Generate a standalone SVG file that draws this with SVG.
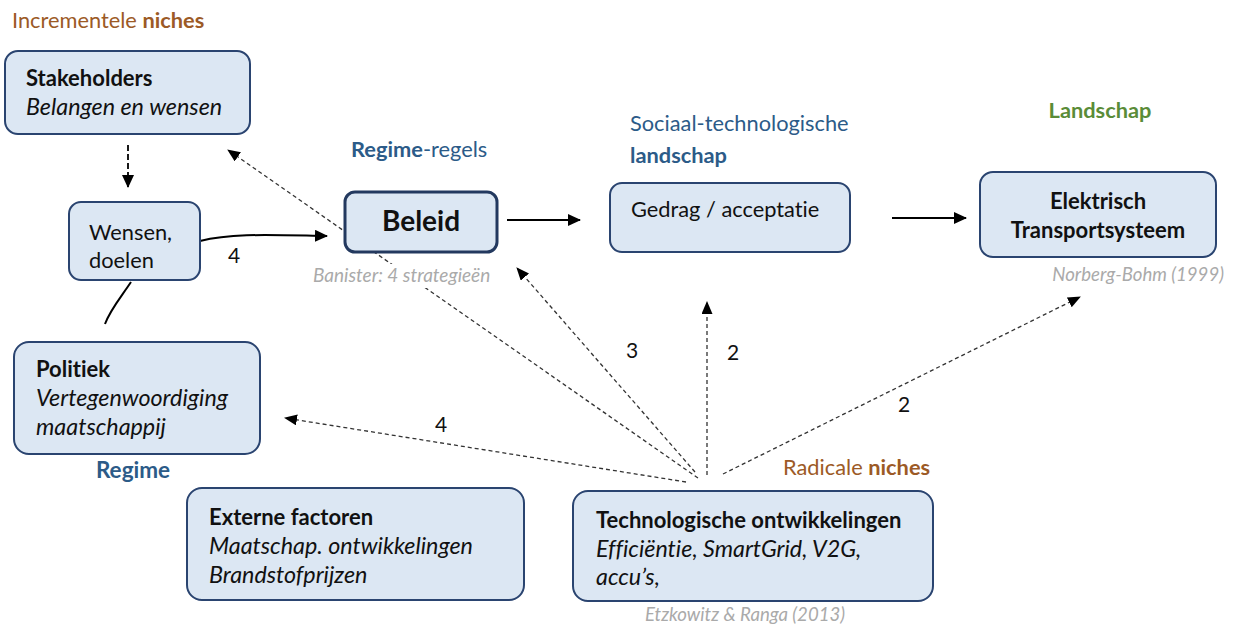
<svg xmlns="http://www.w3.org/2000/svg" width="1239" height="626" viewBox="0 0 1239 626">
  <style>
    text { font-family: Lato, "Open Sans", "Liberation Sans", sans-serif; fill: #111; font-variant-ligatures: no-common-ligatures no-discretionary-ligatures; }
    .box { fill: #dce7f3; stroke: #2a4470; stroke-width: 2; }
    .box-strong { fill: #dce7f3; stroke: #23395f; stroke-width: 3; }
    .b { font-weight: bold; }
    .node-title { font-size: 22px; font-weight: bold; }
    .node-sub { font-size: 23.3px; font-style: italic; }
    .plain { font-size: 21.8px; }
    .brown { fill: #9c5a26; font-size: 21.8px; }
    .blue { fill: #2c5b88; font-size: 21.8px; }
    .green { fill: #5a8c38; font-size: 21.8px; font-weight: bold; }
    .cite { fill: #aaaaaa; font-size: 18.6px; font-style: italic; }
    .num { font-size: 21px; fill: #111; }
    .solid { fill: none; stroke: #000; stroke-width: 2; }
    .dash { fill: none; stroke: #333; stroke-width: 1.3; stroke-dasharray: 4 3; }
    .dash-thick { fill: none; stroke: #000; stroke-width: 1.8; stroke-dasharray: 6 3; }
  </style>
  <defs>
    <marker id="head" markerUnits="userSpaceOnUse" markerWidth="14" markerHeight="12" refX="12" refY="6" orient="auto">
      <path d="M0,0 L13,6 L0,12 Z" fill="#000"/>
    </marker>
    <marker id="head-small" markerUnits="userSpaceOnUse" markerWidth="14" markerHeight="12" refX="12" refY="5.5" orient="auto">
      <path d="M0,0 L13,5.5 L0,11 Z" fill="#000"/>
    </marker>
  </defs>

  <!-- layer captions -->
  <text x="12" y="28" class="brown">Incrementele <tspan class="b">niches</tspan></text>
  <text x="351" y="157" class="blue"><tspan class="b">Regime</tspan>-regels</text>
  <text x="630" y="131" class="blue">Sociaal-technologische</text>
  <text x="630" y="163" class="blue b">landschap</text>
  <text x="1100" y="118" class="green" text-anchor="middle">Landschap</text>
  <text x="133" y="478" class="blue b" text-anchor="middle" style="font-size:22.5px">Regime</text>
  <text x="783" y="475" class="brown">Radicale <tspan class="b">niches</tspan></text>

  <!-- connectors -->
  <g id="connectors">
    <path class="dash" d="M698,478 L228,150" marker-end="url(#head-small)"/>
    <path class="dash" d="M695,472 L517,268" marker-end="url(#head-small)"/>
    <path class="dash" d="M707,475 L707,302" marker-end="url(#head-small)"/>
    <path class="dash" d="M723,474 L1080,297" marker-end="url(#head-small)"/>
    <path class="dash" d="M686,482 L285,418" marker-end="url(#head-small)"/>
    <path class="dash-thick" d="M128,145 L128,187" marker-end="url(#head)"/>
    <path class="solid" d="M200,241 C232,233 270,235 327,236" marker-end="url(#head)"/>
    <path class="solid" d="M131,282 C121,297 110,310 105,324"/>
    <path class="solid" d="M507,220 L580,220" marker-end="url(#head)"/>
    <path class="solid" d="M892,218 L966,218" marker-end="url(#head)"/>
    <text x="234" y="263" class="num" text-anchor="middle">4</text>
    <text x="632" y="358" class="num" text-anchor="middle">3</text>
    <text x="733" y="360" class="num" text-anchor="middle">2</text>
    <text x="904" y="412" class="num" text-anchor="middle">2</text>
    <text x="441" y="432" class="num" text-anchor="middle">4</text>
  </g>

  <!-- nodes -->
  <g id="stakeholders">
    <rect class="box" x="5" y="51" width="245" height="83" rx="13"/>
    <text x="26" y="86" class="node-title">Stakeholders</text>
    <text x="26" y="115" class="node-sub">Belangen en wensen</text>
  </g>

  <g id="wensen">
    <rect class="box" x="69" y="202" width="131" height="78" rx="12"/>
    <text x="89" y="240" class="plain">Wensen,</text>
    <text x="89" y="268" class="plain">doelen</text>
  </g>

  <g id="beleid">
    <rect class="box-strong" x="345" y="192" width="152" height="60" rx="10"/>
    <text x="421" y="231" text-anchor="middle" style="font-size:28px;font-weight:bold">Beleid</text>
    <rect x="310" y="264" width="184" height="24" fill="#fff"/>
    <text x="313" y="282" class="cite" style="font-size:19px">Banister: 4 strategieën</text>
  </g>

  <g id="gedrag">
    <rect class="box" x="610" y="183" width="240" height="69" rx="12"/>
    <text x="631" y="217" class="plain">Gedrag / acceptatie</text>
  </g>

  <g id="elektrisch">
    <rect class="box" x="980" y="172" width="236" height="85" rx="13"/>
    <text x="1098" y="209" text-anchor="middle" class="node-title">Elektrisch</text>
    <text x="1098" y="238" text-anchor="middle" class="node-title">Transportsysteem</text>
    <text x="1224" y="281" text-anchor="end" class="cite">Norberg-Bohm (1999)</text>
  </g>

  <g id="politiek">
    <rect class="box" x="14" y="342" width="246" height="112" rx="15"/>
    <text x="36" y="377" class="node-title">Politiek</text>
    <text x="36" y="406" class="node-sub">Vertegenwoordiging</text>
    <text x="36" y="435" class="node-sub">maatschappij</text>
  </g>

  <g id="externe-factoren">
    <rect class="box" x="187" y="488" width="337" height="112" rx="15"/>
    <text x="209" y="525" class="node-title">Externe factoren</text>
    <text x="209" y="554" class="node-sub">Maatschap. ontwikkelingen</text>
    <text x="209" y="583" class="node-sub">Brandstofprijzen</text>
  </g>

  <g id="technologische-ontwikkelingen">
    <rect class="box" x="573" y="491" width="360" height="110" rx="15"/>
    <text x="596" y="528" class="node-title">Technologische ontwikkelingen</text>
    <text x="596" y="557" class="node-sub">Efficiëntie, SmartGrid, V2G,</text>
    <text x="596" y="585" class="node-sub">accu’s,</text>
    <text x="645" y="621" class="cite">Etzkowitz &amp; Ranga (2013)</text>
  </g>
</svg>
